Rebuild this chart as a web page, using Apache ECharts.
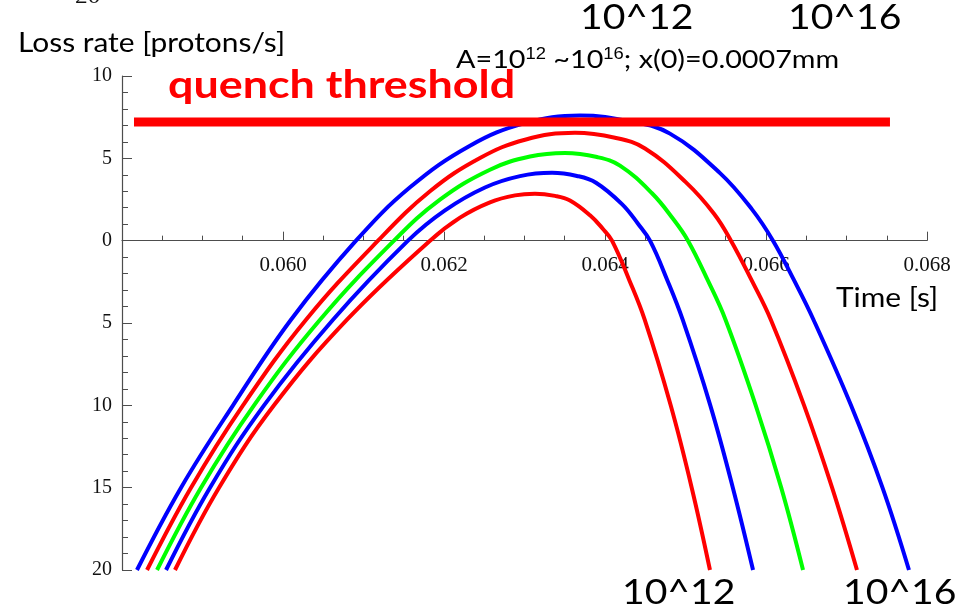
<!DOCTYPE html>
<html>
<head>
<meta charset="utf-8">
<script src="https://cdn.jsdelivr.net/npm/echarts@6/dist/echarts.min.js"></script>
<style>
  html, body { margin: 0; padding: 0; background: #fff; }
  #chart { width: 955px; height: 614px; }
</style>
</head>
<body>
<div id="chart"></div>
<script>
// Loss rate (log10 of protons/s) versus time, one curve per amplitude A
const xTicks = [0.060, 0.062, 0.064, 0.066, 0.068];
const yTicks = [-20, -15, -10, -5, 0, 5, 10];

// A = 10^16 (outermost, blue)
const lossA16 = [[0.058186,-20],[0.058733,-15],[0.059379,-10],[0.060099,-4.8],[0.060907,0],[0.061578,3.24],[0.062323,5.77],[0.063006,7.14],[0.063689,7.6],[0.064311,7.24],[0.064807,6.5],[0.065429,4.1],[0.065826,1.9],[0.066087,0],[0.066348,-2.4],[0.066590,-4.8],[0.067056,-10],[0.067447,-15],[0.067776,-20]];
// A = 10^15 (red)
const lossA15 = [[0.058311,-20],[0.058857,-15],[0.059503,-10],[0.060286,-4.8],[0.061180,0],[0.061826,3.0],[0.062447,5.02],[0.063006,6.13],[0.063627,6.55],[0.064124,6.25],[0.064497,5.6],[0.065006,3.54],[0.065354,1.64],[0.065565,0],[0.065821,-2.4],[0.066060,-4.8],[0.066473,-10],[0.066821,-15],[0.067130,-20]];
// A = 10^14 (green)
const lossA14 = [[0.058435,-20],[0.058981,-15],[0.059640,-10],[0.060460,-4.8],[0.061379,0],[0.061950,2.49],[0.062571,4.31],[0.063068,5.11],[0.063503,5.33],[0.063901,5.08],[0.064186,4.56],[0.064584,2.88],[0.064845,1.33],[0.065031,0],[0.065276,-2.4],[0.065497,-4.8],[0.065872,-10],[0.066189,-15],[0.066460,-20]];
// A = 10^13 (blue)
const lossA13 = [[0.058547,-20],[0.059093,-15],[0.059764,-10],[0.060621,-4.8],[0.061553,0],[0.062012,1.84],[0.062509,3.23],[0.062944,3.92],[0.063342,4.12],[0.063652,3.93],[0.063888,3.52],[0.064211,2.22],[0.064410,1.03],[0.064559,0],[0.064774,-2.4],[0.064965,-4.8],[0.065308,-10],[0.065588,-15],[0.065839,-20]];
// A = 10^12 (innermost, red)
const lossA12 = [[0.058658,-20],[0.059205,-15],[0.059888,-10],[0.060795,-4.8],[0.061826,0],[0.062199,1.40],[0.062571,2.33],[0.062882,2.75],[0.063130,2.85],[0.063379,2.72],[0.063565,2.44],[0.063814,1.54],[0.063975,0.71],[0.064087,0],[0.064302,-2.4],[0.064493,-4.8],[0.064816,-10],[0.065077,-15],[0.065304,-20]];
// quench threshold level
const threshold = [[0.058149, 7.2], [0.067540, 7.2]];

const curves = [
  { name: '10^16', data: lossA16, color: '#0000ff' },
  { name: '10^15', data: lossA15, color: '#ff0000' },
  { name: '10^14', data: lossA14, color: '#00ff00' },
  { name: '10^13', data: lossA13, color: '#0000ff' },
  { name: '10^12', data: lossA12, color: '#ff0000' }
];

const chart = echarts.init(document.getElementById('chart'), null, { renderer: 'canvas' });
const axisGrey = '#4d4d4d';
const serif = '"Liberation Serif", "DejaVu Serif", serif';
const sans = 'Lato, "Open Sans", sans-serif';
const stretch = 1.15;

// plot area geometry; the time axis sits on the zero line of the loss axis
const gridTop = 76, gridBottom = 44, chartH = 614;
const yMin = -20, yMax = 10;
const plotH = chartH - gridTop - gridBottom;
const zeroShift = plotH * (0 - yMin) / (yMax - yMin);

function label(text, x, y, font, fill, extra) {
  return {
    type: 'text', x: x, y: y, scaleX: stretch, originX: 0, originY: 0,
    style: Object.assign({ text: text, font: font, fill: fill, verticalAlign: 'top', align: 'left' }, extra || {})
  };
}

const option = {
  animation: false,
  backgroundColor: '#ffffff',
  grid: { left: 122, right: 28, top: gridTop, bottom: gridBottom },
  xAxis: {
    type: 'value',
    min: 0.058,
    max: 0.068,
    interval: 0.002,
    position: 'bottom',
    offset: -zeroShift,
    axisLine: { onZero: false, lineStyle: { color: axisGrey, width: 1.2 } },
    axisTick: { inside: true, length: 9, lineStyle: { color: axisGrey } },
    minorTick: { show: true, splitNumber: 4, length: 5, lineStyle: { color: axisGrey } },
    splitLine: { show: false },
    axisLabel: {
      margin: 14,
      color: '#111',
      fontFamily: serif,
      fontSize: 21,
      formatter: v => xTicks.some(t => Math.abs(t - v) < 1e-9) ? v.toFixed(3) : ''
    }
  },
  yAxis: {
    type: 'value',
    min: yMin,
    max: yMax,
    interval: 5,
    axisLine: { show: true, lineStyle: { color: axisGrey, width: 1.2 } },
    axisTick: { show: true, inside: true, length: 10, lineStyle: { color: axisGrey } },
    minorTick: { show: true, splitNumber: 5, length: 6, lineStyle: { color: axisGrey } },
    splitLine: { show: false },
    axisLabel: {
      margin: 10,
      color: '#111',
      fontFamily: serif,
      fontSize: 20,
      formatter: v => yTicks.includes(v) ? String(Math.abs(v)) : ''
    }
  },
  series: curves.map(c => ({
    name: c.name,
    type: 'line',
    data: c.data,
    smooth: 0.4,
    showSymbol: false,
    lineStyle: { color: c.color, width: 4 },
    z: 2
  })).concat([{
    name: 'quench threshold',
    type: 'line',
    data: threshold,
    showSymbol: false,
    lineStyle: { color: '#ff0000', width: 9, cap: 'butt' },
    z: 3
  }]),
  graphic: [
    label('20', 75, -14, '22px ' + serif, '#111'),
    label('Loss rate [protons/s]', 18, 31, '26px ' + sans, '#000'),
    label('A=10{s|12} ~10{s|16}; x(0)=0.0007mm', 456, 47, '25px ' + sans, '#000', {
      rich: { s: { fontSize: 16, verticalAlign: 'top', padding: [0, 0, 9, 0] } }
    }),
    label('quench threshold', 168, 66, 'bold 39px ' + sans, '#ff0000'),
    label('10^12', 580, 1, '34px ' + sans, '#000'),
    label('10^16', 788, 1, '34px ' + sans, '#000'),
    label('10^12', 622, 576, '34px ' + sans, '#000'),
    label('10^16', 843, 576, '34px ' + sans, '#000'),
    label('Time [s]', 836, 286, '26px ' + sans, '#000')
  ]
};
chart.setOption(option);
</script>
</body>
</html>
